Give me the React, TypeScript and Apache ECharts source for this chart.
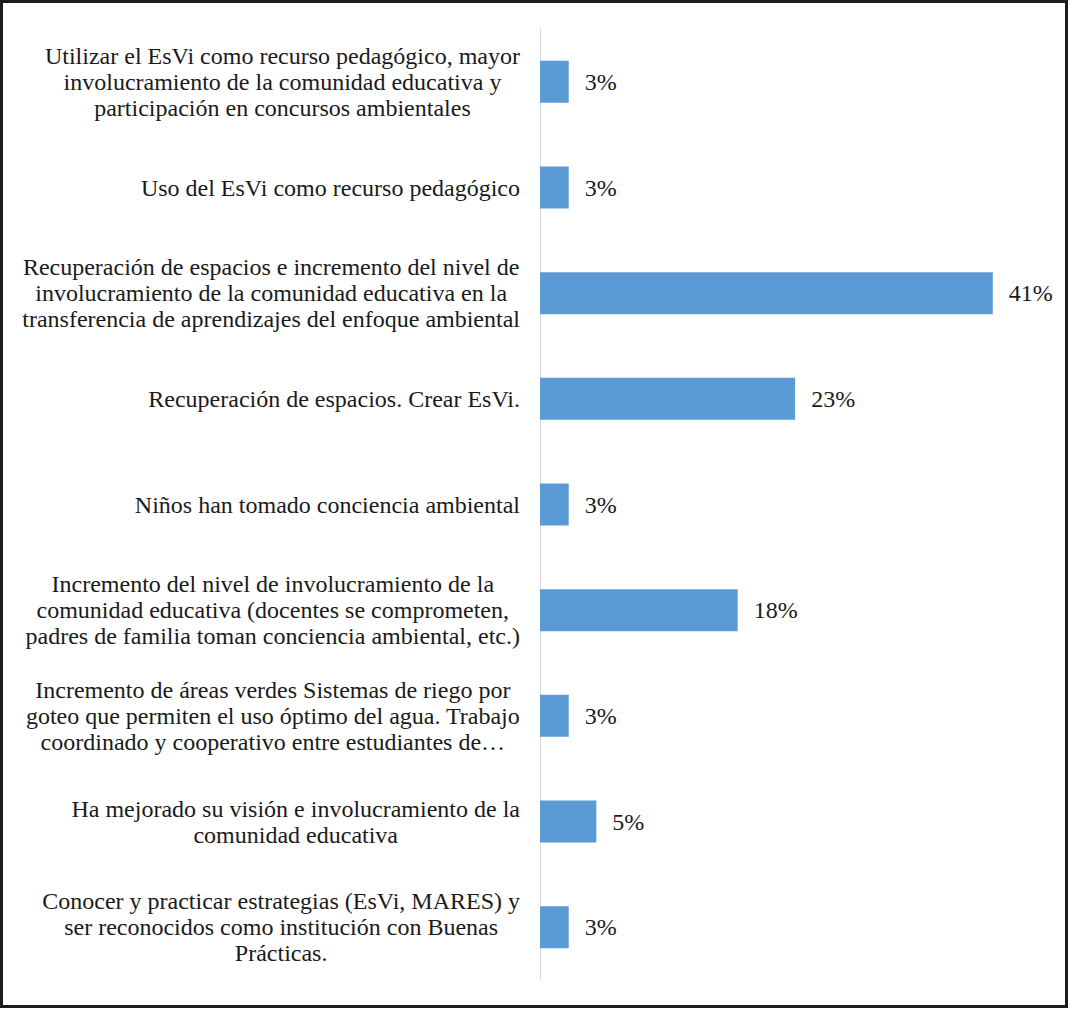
import React, { useEffect, useRef } from "react";
import * as echarts from "echarts";

const categories: string[] = [
  "Utilizar el EsVi como recurso pedagógico, mayor\ninvolucramiento de la comunidad educativa y\nparticipación en concursos ambientales",
  "Uso del EsVi como recurso pedagógico",
  "Recuperación de espacios e incremento del nivel de\ninvolucramiento de la comunidad educativa en la\ntransferencia de aprendizajes del enfoque ambiental",
  "Recuperación de espacios. Crear EsVi.",
  "Niños han tomado conciencia ambiental",
  "Incremento del nivel de involucramiento de la\ncomunidad educativa (docentes se comprometen,\npadres de familia toman conciencia ambiental, etc.)",
  "Incremento de áreas verdes Sistemas de riego por\ngoteo que permiten el uso óptimo del agua. Trabajo\ncoordinado y cooperativo entre estudiantes de…",
  "Ha mejorado su visión e involucramiento de la\ncomunidad educativa",
  "Conocer y practicar estrategias (EsVi, MARES) y\nser reconocidos como institución con Buenas\nPrácticas.",
];

const values: number[] = [2.6, 2.6, 41.0, 23.1, 2.6, 17.9, 2.6, 5.1, 2.6];

const FONT = "'Liberation Serif', 'Times New Roman', serif";
const TEXT_COLOR = "#1a1a1a";

export default function App() {
  const ref = useRef<HTMLDivElement>(null);

  useEffect(() => {
    document.body.style.margin = "0";
    if (!ref.current) return;
    const chart = echarts.init(ref.current, undefined, { renderer: "svg" });
    chart.setOption({
      animation: false,
      backgroundColor: "#ffffff",
      textStyle: { fontFamily: FONT },
      graphic: [
        {
          type: "rect",
          shape: { x: 1.5, y: 1.5, width: 1065, height: 1005 },
          style: { fill: "none", stroke: "#1c1c1c", lineWidth: 3 },
          silent: true,
        },
      ],
      grid: { left: 540, top: 29, width: 497, height: 951, containLabel: false },
      xAxis: {
        type: "value",
        min: 0,
        max: 45,
        show: false,
        splitLine: { show: false },
      },
      yAxis: {
        type: "category",
        inverse: true,
        data: categories,
        axisLine: { show: true, lineStyle: { color: "#d9d9d9", width: 1 } },
        axisTick: { show: false },
        splitLine: { show: false },
        axisLabel: {
          margin: 20,
          align: "right",
          interval: 0,
          fontFamily: FONT,
          fontSize: 24,
          formatter: (v: string) =>
            v
              .split("\n")
              .map((l) => `{c|${l}}`)
              .join("\n"),
          rich: {
            c: {
              align: "center",
              fontFamily: FONT,
              fontSize: 24,
              lineHeight: 26,
              color: TEXT_COLOR,
            },
          },
        },
      },
      series: [
        {
          type: "bar",
          data: values,
          barWidth: 42,
          itemStyle: { color: "#5b9bd5" },
          label: {
            show: true,
            position: "right",
            distance: 16,
            formatter: (p: any) => `${Math.round(p.value)}%`,
            fontFamily: FONT,
            fontSize: 24,
            color: TEXT_COLOR,
          },
        },
      ],
    });
    return () => chart.dispose();
  }, []);

  return <div ref={ref} style={{ width: 1069, height: 1009 }} />;
}
